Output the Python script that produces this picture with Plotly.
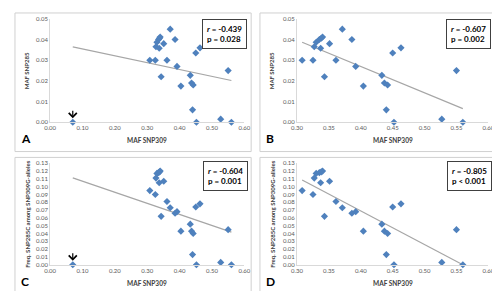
import numpy as np
import plotly.graph_objects as go

# ---------------- data ----------------
maf_snp309 = [0.070, 0.308, 0.325, 0.327, 0.330, 0.335, 0.337, 0.338, 0.340, 0.343,
              0.351, 0.361, 0.371, 0.386, 0.392, 0.404, 0.433, 0.437, 0.442, 0.440,
              0.450, 0.452, 0.463, 0.527, 0.550, 0.560]
maf_snp285 = [0.000, 0.030, 0.030, 0.0365, 0.0387, 0.0400, 0.0358, 0.0406, 0.0412, 0.0220,
              0.0380, 0.0300, 0.0450, 0.0400, 0.0270, 0.0175, 0.0227, 0.0190, 0.0180, 0.0060,
              0.0335, 0.000, 0.0360, 0.0015, 0.0250, 0.000]
freq_285c = [0.000, 0.095, 0.090, 0.111, 0.117, 0.118, 0.105, 0.119, 0.120, 0.062,
             0.107, 0.081, 0.073, 0.066, 0.068, 0.043, 0.052, 0.043, 0.040, 0.013,
             0.074, 0.000, 0.078, 0.003, 0.045, 0.000]

panel_letters = ["A", "B", "C", "D"]
stats_text = ["<i>r</i> = -0.439<br>p = 0.028", "<i>r</i> = -0.607<br>p = 0.002",
              "<i>r</i> = -0.604<br>p = 0.001", "<i>r</i> = -0.805<br>p &lt; 0.001"]
x_title = "MAF SNP309"
y_titles = ["MAF SNP285", "MAF SNP285",
            "Freq. SNP285C among SNP309G-alleles", "Freq. SNP285C among SNP309G-alleles"]

x_ticks_full = [0.0, 0.1, 0.2, 0.3, 0.4, 0.5, 0.6]
x_ticks_zoom = [0.30, 0.35, 0.40, 0.45, 0.50, 0.55, 0.60]
y_ticks_285 = [0.0, 0.01, 0.02, 0.03, 0.04, 0.05]
y_ticks_c = [round(0.01 * i, 2) for i in range(14)]

# ---------------- layout geometry (pixels) ----------------
W, H = 500, 291
def fx(p): return p / W
def fy(p): return 1 - p / H

# (plot left, plot right, plot top, plot bottom), panel box (x0, y0, x1, y1), stats box (right, top)
geo = [
    ((37, 236, 7, 113), (1, 1, 243, 143), (239, 7)),
    ((290, 486, 7, 113), (252, 1, 499, 143), (489, 7)),
    ((37, 236, 155, 259), (1, 149, 243, 290), (240, 153)),
    ((290, 486, 155, 259), (252, 149, 499, 290), (490, 153)),
]

MARK = "#4F81BD"
FONT = "Lato, Liberation Sans, Arial"
fig = go.Figure()

panel_data = [
    (maf_snp309, maf_snp285, True, x_ticks_full, y_ticks_285),
    (maf_snp309, maf_snp285, False, x_ticks_zoom, y_ticks_285),
    (maf_snp309, freq_285c, True, x_ticks_full, y_ticks_c),
    (maf_snp309, freq_285c, False, x_ticks_zoom, y_ticks_c),
]

shapes = []
annotations = []
for i, ((xs, ys, full, xt, yt), ((pl, pr, pt, pb), (bx0, by0, bx1, by1), (sr, st))) in enumerate(zip(panel_data, geo)):
    n = "" if i == 0 else str(i + 1)
    xa, ya = "x" + n, "y" + n
    x = np.array(xs); y = np.array(ys)
    if not full:
        keep = x > 0.2
        x, y = x[keep], y[keep]
    # trend line (least squares)
    k, b = np.polyfit(x, y, 1)
    xl = np.array([x.min(), x.max()])
    fig.add_trace(go.Scatter(x=xl, y=k * xl + b, mode="lines", xaxis=xa, yaxis=ya,
                             line=dict(color="#A6A6A6", width=1.2), hoverinfo="skip",
                             showlegend=False))
    fig.add_trace(go.Scatter(x=x, y=y, mode="markers", xaxis=xa, yaxis=ya,
                             marker=dict(symbol="diamond", size=5.5, color=MARK),
                             cliponaxis=False, showlegend=False))
    axis_common = dict(showgrid=False, zeroline=False, showline=True, linecolor="#D9D9D9",
                       linewidth=1, ticks="", tickfont=dict(family=FONT, size=6, color="#595959"),
                       tickformat=".2f", fixedrange=True)
    fig.update_layout(**{
        ("xaxis" + n): dict(domain=[fx(pl), fx(pr)], range=[xt[0], xt[-1]], tickvals=xt,
                            anchor=ya, **axis_common),
        ("yaxis" + n): dict(domain=[fy(pb), fy(pt)], range=[yt[0], yt[-1]], tickvals=yt,
                            anchor=xa, **axis_common),
    })
    # panel frame
    shapes.append(dict(type="rect", xref="paper", yref="paper", x0=fx(bx0), x1=fx(bx1),
                       y0=fy(by1), y1=fy(by0), line=dict(color="#D0D0D0", width=1)))
    # axis titles
    annotations.append(dict(xref="paper", yref="paper", x=fx((pl + pr) / 2), y=fy(pb + 19),
                            xanchor="center", yanchor="middle",
                            text="<b>" + x_title + "</b>", showarrow=False,
                            font=dict(family=FONT, size=6.5, color="#404040")))
    annotations.append(dict(xref="paper", yref="paper", x=fx(bx0 + 12), y=fy((pt + pb) / 2),
                            xanchor="center", yanchor="middle",
                            text="<b>" + y_titles[i] + "</b>", showarrow=False, textangle=-90,
                            font=dict(family=FONT, size=6, color="#404040")))
    # panel letter
    annotations.append(dict(xref="paper", yref="paper", x=fx(bx0 + 4), y=fy(by1 - 4),
                            xanchor="left", yanchor="bottom", text="<b>" + panel_letters[i] + "</b>",
                            showarrow=False, font=dict(family=FONT, size=12, color="#000000")))
    # stats box
    annotations.append(dict(xref="paper", yref="paper", x=fx(sr), y=fy(st),
                            xanchor="right", yanchor="top", text="<b>" + stats_text[i] + "</b>",
                            align="left", showarrow=False, bordercolor="#404040", borderwidth=1,
                            borderpad=4, bgcolor="white",
                            font=dict(family=FONT, size=8, color="#000000")))
    # arrow to outlier
    if full:
        annotations.append(dict(xref=xa, yref=ya, x=xs[0], y=ys[0], ax=0, ay=-13,
                                showarrow=True, arrowhead=4, arrowsize=1.3, arrowwidth=1.2,
                                arrowcolor="#000000", standoff=4, text=""))

fig.update_layout(width=W, height=H, margin=dict(l=0, r=0, t=0, b=0),
                  paper_bgcolor="white", plot_bgcolor="white",
                  shapes=shapes, annotations=annotations, showlegend=False)
fig.write_html("out.html")
